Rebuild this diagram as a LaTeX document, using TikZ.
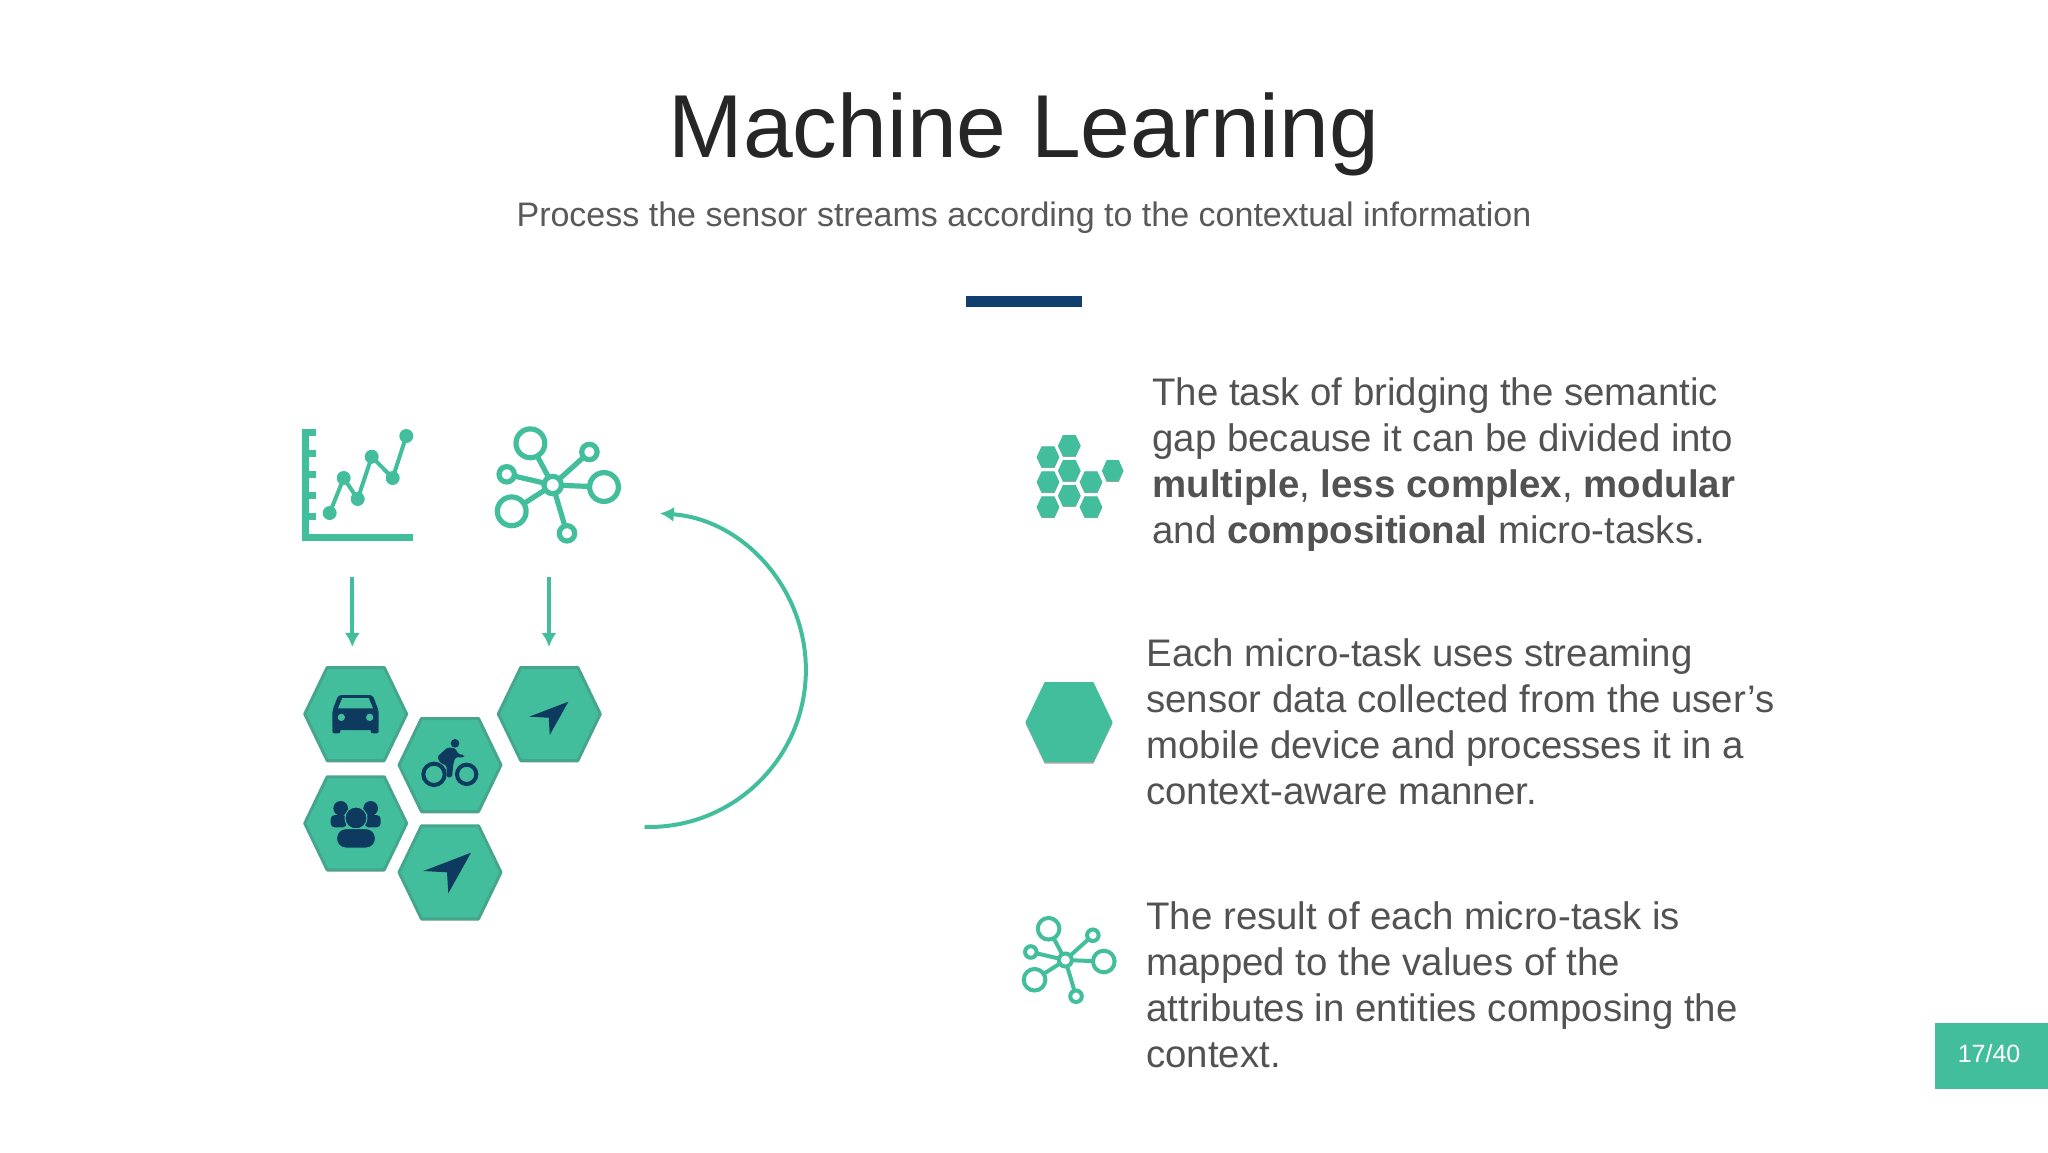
\documentclass[tikz,border=0pt]{standalone}
\usepackage{fontspec}
\setmainfont{Liberation Sans}
\usepackage{xcolor}
\usetikzlibrary{arrows.meta}

\definecolor{teal}{HTML}{43BE9C}
\definecolor{tealedge}{HTML}{46A58D}
\definecolor{navy}{HTML}{0F3A5F}
\definecolor{barblue}{HTML}{0E3F6D}

\tikzset{
    bodytext/.style={anchor=north west, inner sep=0pt, align=left, text=black!68,
        font=\fontsize{19.2}{23}\selectfont},
    flow/.style={draw=teal, line width=2pt, -{Latex[length=7pt,width=7.5pt]}},
    cellshade/.style={fill=black!35, draw=none},
    hexcell/.pic={
        \path[cellshade, shift={(0,.04)}] (-1,0) -- (-.56,-1) -- (.56,-1) -- (1,0) -- (.56,1) -- (-.56,1) -- cycle;
        \path[pic actions] (-1,0) -- (-.56,-1) -- (.56,-1) -- (1,0) -- (.56,1) -- (-.56,1) -- cycle;
    },
    bigcell/.style={fill=teal, draw=tealedge, line width=1.5pt, line join=round, xscale=51, yscale=46.5},
    navarrow/.pic={
        \fill[navy] (24,-20.3) -- (-23.7,-2) -- (0,-.7) -- (1.3,20.3) -- cycle;
    },
    netgraph/.pic={
        \draw[teal, line width=#1] (0,0) -- (-22.3,-41.7);
        \draw[teal, line width=#1] (0,0) -- (36.7,-33);
        \draw[teal, line width=#1] (0,0) -- (51.3,2);
        \draw[teal, line width=#1] (0,0) -- (-41,26.3);
        \draw[teal, line width=#1] (0,0) -- (-46,-10.7);
        \draw[teal, line width=#1] (0,0) -- (14.3,48.3);
        \filldraw[draw=teal, fill=white, line width=#1] (0,0) circle (8.7);
        \filldraw[draw=teal, fill=white, line width=#1] (-22.3,-41.7) circle (14.4);
        \filldraw[draw=teal, fill=white, line width=#1] (51.3,2) circle (14.4);
        \filldraw[draw=teal, fill=white, line width=#1] (-41,26.3) circle (14.4);
        \filldraw[draw=teal, fill=white, line width=#1] (36.7,-33) circle (7.7);
        \filldraw[draw=teal, fill=white, line width=#1] (-46,-10.7) circle (7.7);
        \filldraw[draw=teal, fill=white, line width=#1] (14.3,48.3) circle (7.7);
    }
}

\begin{document}
\begin{tikzpicture}[x=.5pt, y=-.5pt]
        \useasboundingbox (0,0) rectangle (2048,1152);

        % heading
        \node[anchor=base, inner sep=0pt, text=black!85, font=\fontsize{44.7}{50}\selectfont] (title) at (1024,157) {Machine Learning};
        \node[anchor=base, inner sep=0pt, text=black!65, font=\fontsize{17}{20}\selectfont] (subtitle) at (1024,226) {Process the sensor streams according to the contextual information};
        \fill[barblue] (966,296) rectangle (1082,307);

        % chart icon
        \fill[teal] (301.7,429) rectangle (309,541);
        \fill[teal] (301.7,534) rectangle (413.3,541);
        \foreach \ty in {429,450,471,492,513}
            \fill[teal] (301.7,\ty) rectangle (315.7,\ty+6.7);
        \draw[teal, line width=2pt] (329.7,513) -- (343.7,478) -- (357.7,499) -- (371.7,456.7) -- (392.7,478) -- (406.3,436);
        \foreach \px/\py in {329.7/513, 343.7/478, 357.7/499, 371.7/456.7, 392.7/478, 406.3/436}
            \fill[teal] (\px,\py) circle (7);

        % network icons
        \pic (netbig) at (552.7,485) {netgraph=2.6pt};
        \pic (netsmall) [scale=.75] at (1065.3,960) {netgraph=2pt};

        % arrows into the cells
        \coordinate (chartout) at (352.3,577);
        \coordinate (carin) at (352.3,647);
        \coordinate (netout) at (549,577);
        \coordinate (navin) at (549,647);
        \draw[flow] (chartout) -- (carin);
        \draw[flow] (netout) -- (navin);

        % loop back
        \coordinate (loopstart) at (644.5,826.9);
        \draw[flow] (loopstart) arc[start angle=91.6, end angle=-86, radius=157];

        % hexagon cells
        \pic (hexcar) [bigcell] at (355.7,714) {hexcell};
        \pic (hexbike) [bigcell] at (450,765) {hexcell};
        \pic (hexnav) [bigcell] at (549.3,714) {hexcell};
        \pic (hexpeople) [bigcell] at (355.7,823.3) {hexcell};
        \pic (hexroute) [bigcell] at (450,872.3) {hexcell};

        \pic (navone) [scale=.82] at (548.7,718.3) {navarrow};
        \pic (navtwo) at (447,873) {navarrow};

        % car, bike and people, in a grid three times finer
        \begin{scope}[shift={(280,640)}, scale=1/3]
            \fill[navy, rounded corners=1pt] (157,262) rectangle (181,280);
            \fill[navy, rounded corners=1pt] (272,262) rectangle (296,280);
            \fill[navy, rounded corners=1.5pt] (157,270) -- (157,212) -- (175,165) -- (278,165) -- (296,212) -- (296,270) -- cycle;
            \fill[teal] (174,205) -- (187,174) -- (266,174) -- (279,205) -- cycle;
            \fill[teal] (184,232) circle (11);
            \fill[teal] (269,232) circle (11);

            \draw[navy, line width=2pt] (462,403) circle (32);
            \draw[navy, line width=2pt] (560,403) circle (29);
            \fill[navy] (525,310) circle (13);
            \fill[navy, rounded corners=.8pt] (472,350) -- (503,322) -- (526,325) -- (535,342) -- (553,345) -- (553,352) -- (526,352) -- (520,372) -- (516,412) -- (500,412) -- (500,377) -- (480,368) -- cycle;

            \fill[navy] (182,505) circle (22);
            \fill[navy] (272,505) circle (22);
            \fill[navy, rounded corners=2pt] (152,562) -- (152,525) -- (200,525) -- (200,562) -- cycle;
            \fill[navy, rounded corners=2pt] (254,562) -- (254,525) -- (302,525) -- (302,562) -- cycle;
            \filldraw[fill=navy, draw=teal, line width=.5pt] (228,534) circle (33);
            \filldraw[fill=navy, draw=teal, line width=.5pt, rounded corners=4.5pt] (170,624) -- (170,566) -- (286,566) -- (286,624) -- cycle;
        \end{scope}

        % first item
        \foreach \cx/\cy in {1069.3/445.7, 1048/457, 1069.3/470.7, 1048/482, 1091/482, 1069.3/495.7, 1048/507, 1091/507}
            \pic[fill=teal, xscale=11.3, yscale=10.7] at (\cx,\cy) {hexcell};
        \pic[fill=teal, xscale=10.7, yscale=10.7] at (1112.7,470.7) {hexcell};
        \node[bodytext] (itemone) at (1152,377) {The task of bridging the semantic\\gap because it can be divided into\\\textbf{multiple}, \textbf{less complex}, \textbf{modular}\\and \textbf{compositional} micro-tasks.};

        % second item
        \pic[fill=teal, xscale=43.5, yscale=40] at (1069,722) {hexcell};
        \node[bodytext] (itemtwo) at (1146,638) {Each micro-task uses streaming\\sensor data collected from the user’s\\mobile device and processes it in a\\context-aware manner.};

        % third item
        \node[bodytext] (itemthree) at (1146,901) {The result of each micro-task is\\mapped to the values of the\\attributes in entities composing the\\context.};

        % page number
        \fill[teal] (1935,1023) rectangle (2048,1089);
        \node[text=white, inner sep=0pt, font=\fontsize{12.5}{15}\selectfont] (pageno) at (1989,1054) {17/40};
    \end{tikzpicture}
\end{document}
